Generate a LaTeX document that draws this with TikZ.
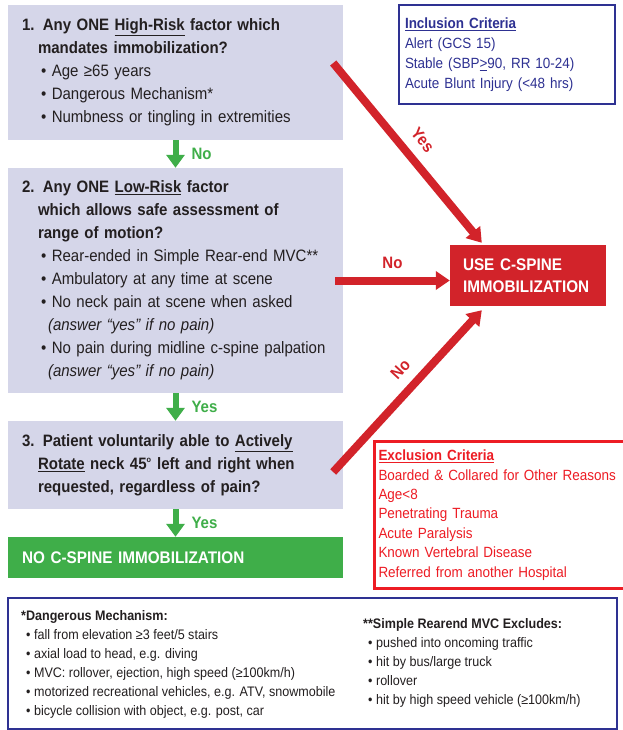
\documentclass[tikz,border=0pt]{standalone}
\usepackage{fontspec}
\setmainfont{Liberation Sans}[FakeStretch=0.91]
\usetikzlibrary{arrows.meta,positioning}

\definecolor{boxgray}{HTML}{D5D6E9}
\definecolor{txtdark}{HTML}{231F20}
\definecolor{gogreen}{HTML}{3FAE49}
\definecolor{stopred}{HTML}{D2232A}
\definecolor{exred}{HTML}{ED1C24}
\definecolor{navy}{HTML}{2E3192}

\newcommand{\qcont}[1]{\hspace*{16pt}\textbf{#1}}
\newcommand{\qbul}[1]{\hspace*{19pt}\textbullet\ \mbox{#1}}
\newcommand{\qnote}[1]{\hspace*{26pt}\textit{#1}}
\newcommand{\fnbul}[1]{\hspace*{5pt}\textbullet\ #1}

\begin{document}
\begin{tikzpicture}[x=1pt,y=-1pt]
\path[use as bounding box,fill=white] (0,0) rectangle (622,730);

\tikzset{qbox/.style={fill=boxgray,text=txtdark,minimum width=335pt,text width=307pt,
  inner xsep=14pt,inner ysep=0pt,align=left,font=\fontsize{16.5}{23}\selectfont}};
\tikzset{critbox/.style={inner ysep=0pt,align=left}};

% the three questions
\node (q1) at (175.5,72.5) [qbox,minimum height=135pt] {%
\textbf{1. Any ONE \underline{High-Risk} factor which}\\
\qcont{mandates immobilization?}\\
\qbul{Age ≥65 years}\\
\qbul{Dangerous Mechanism*}\\
\qbul{Numbness or tingling in extremities}};
\node (q2) at (175.5,280.5) [qbox,minimum height=225pt] {%
\textbf{2. Any ONE \underline{Low-Risk} factor}\\
\qcont{which allows safe assessment of}\\
\qcont{range of motion?}\\
\qbul{Rear-ended in Simple Rear-end MVC**}\\
\qbul{Ambulatory at any time at scene}\\
\qbul{No neck pain at scene when asked}\\
\qnote{(answer “yes” if no pain)}\\
\qbul{No pain during midline c-spine palpation}\\
\qnote{(answer “yes” if no pain)}};
\node (q3) at (175.5,465) [qbox,minimum height=88pt] {%
\textbf{3. Patient voluntarily able to \underline{Actively}}\\
\qcont{\underline{Rotate} neck 45\textsuperscript{\footnotesize o} left and right when}\\
\qcont{requested, regardless of pain?}};
\node (noimm) at (175.5,557.5) [qbox,fill=gogreen,text=white,minimum height=41pt,
  font=\bfseries\fontsize{16.8}{23}\selectfont] {NO C-SPINE IMMOBILIZATION};
\node (use) at (528,275.5) [fill=stopred,text=white,minimum width=156pt,minimum height=61pt,
  text width=130pt,inner xsep=13pt,inner ysep=0pt,align=left,
  font=\bfseries\fontsize{16.8}{22}\selectfont] {USE C-SPINE\\IMMOBILIZATION};

% criteria
\node (incl) at (507,54.5) [critbox,draw=navy,text=navy,line width=2pt,minimum width=216pt,
  minimum height=99pt,text width=204pt,inner xsep=6pt,font=\fontsize{14.8}{20}\selectfont] {%
\textbf{\underline{Inclusion Criteria}}\\
Alert (GCS 15)\\
Stable (SBP\underline{>}90, RR 10-24)\\
Acute Blunt Injury (<48 hrs)};
\node (excl) at (373,440) [critbox,anchor=north west,draw=exred,text=exred,line width=3pt,
  minimum height=147pt,text width=280pt,inner xsep=4pt,font=\fontsize{14.8}{19.4}\selectfont] {%
\textbf{\underline{Exclusion Criteria}}\\
Boarded \& Collared for Other Reasons\\
Age<8\\
Penetrating Trauma\\
Acute Paralysis\\
Known Vertebral Disease\\
Referred from another Hospital};

% green steps
\tikzset{gostep/.style={draw=gogreen,line width=6pt,-{Triangle[width=18pt,length=13pt]}}};
\tikzset{golabel/.style={text=gogreen,inner sep=0pt,font=\bfseries\fontsize{16.5}{20}\selectfont}};
\path (q1.south) edge [gostep] node[golabel,right=13pt] {No} (q2.north);
\path (q2.south) edge [gostep] node[golabel,right=13pt] {Yes} (q3.north);
\path (q3.south) edge [gostep] node[golabel,right=13pt] {Yes} (noimm.north);

% red arrows
\tikzset{stoparrow/.style={draw=stopred,line width=8pt,-{Triangle[width=18pt,length=14pt]}}};
\tikzset{stoplabel/.style={text=stopred,inner sep=0pt,font=\bfseries\fontsize{16.5}{20}\selectfont}};
\coordinate (yesfrom) at ([xshift=-10pt,yshift=9.5pt]q1.east);
\coordinate (yesto) at ([xshift=32pt,yshift=2pt]use.north west);
\coordinate (nofrom) at ([xshift=-10pt,yshift=-7pt]q3.east);
\coordinate (noto) at ([xshift=32pt,yshift=-4pt]use.south west);
\path (yesfrom) edge [stoparrow] node[stoplabel,sloped,above=10pt] {Yes} (yesto);
\path ([xshift=-8pt]q2.east) edge [stoparrow] node[stoplabel,above=8pt] {No} (q2.east -| use.west);
\path (nofrom) edge [stoparrow] node[stoplabel,sloped,pos=0.55,above=10pt] {No} (noto);

% footnotes
\node (notes) at (312.5,663.5) [draw=navy,line width=2.5pt,minimum width=609pt,minimum height=131pt] {};
\tikzset{fnote/.style={anchor=west,text=txtdark,inner sep=0pt,align=left,font=\fontsize{13.8}{19}\selectfont}};
\node (dmech) at (21,664) [fnote] {%
\textbf{*Dangerous Mechanism:}\\
\fnbul{fall from elevation ≥3 feet/5 stairs}\\
\fnbul{axial load to head, e.g. diving}\\
\fnbul{MVC: rollover, ejection, high speed (≥100km/h)}\\
\fnbul{motorized recreational vehicles, e.g. ATV, snowmobile}\\
\fnbul{bicycle collision with object, e.g. post, car}};
\node (rearend) at (363,663) [fnote] {%
\textbf{**Simple Rearend MVC Excludes:}\\
\fnbul{pushed into oncoming traffic}\\
\fnbul{hit by bus/large truck}\\
\fnbul{rollover}\\
\fnbul{hit by high speed vehicle (≥100km/h)}};
\end{tikzpicture}
\end{document}
